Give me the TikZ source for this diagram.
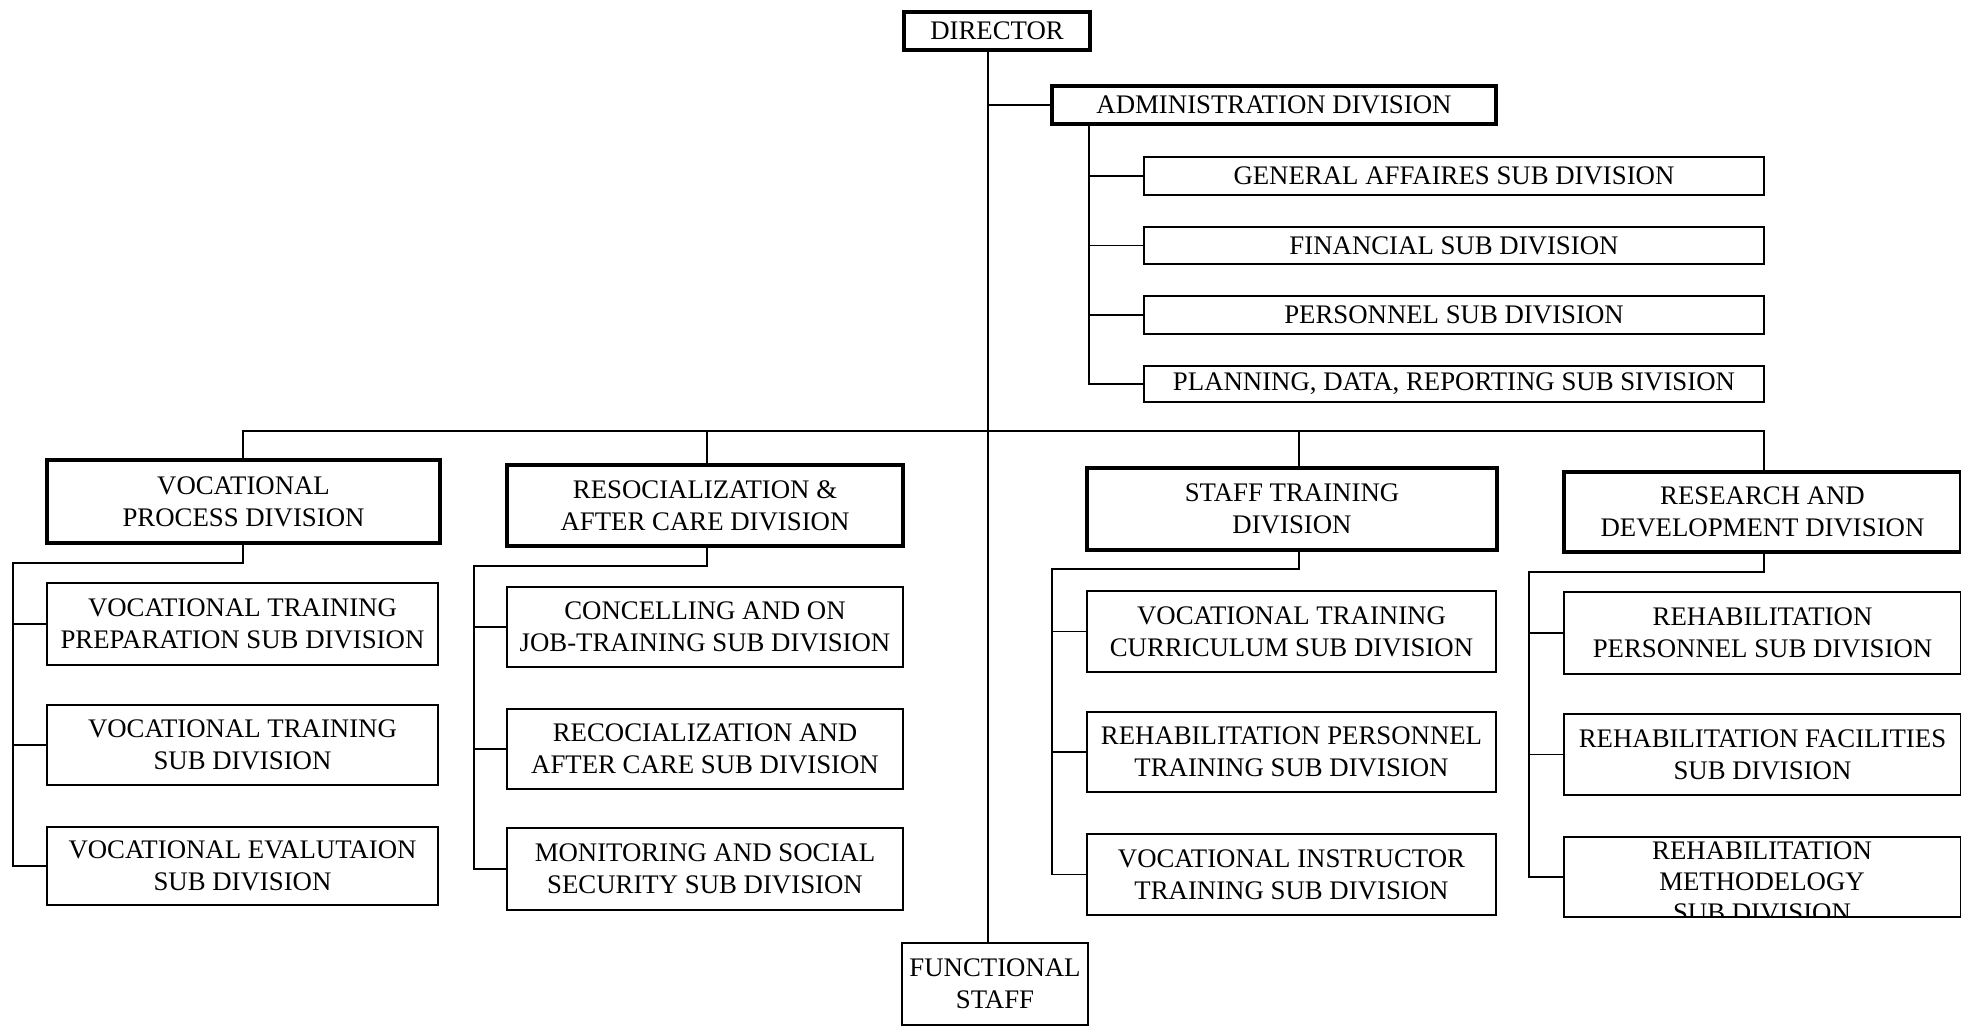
\documentclass[tikz,border=0pt]{standalone}
\usepackage{fontspec}
\setmainfont{Liberation Serif}
\newcommand{\orgbox}[7]{%
  \node[#1, minimum width={(#5-#3)*0.5pt}, minimum height={(#6-#4)*0.5pt}] (#2) at ({(#3+#5)/2},{(#4+#6)/2}) {#7};}
\begin{document}
\begin{tikzpicture}[x=0.5pt,y=-0.5pt,
  box/.style={draw, line width=0.9pt, inner sep=0pt, align=center, font=\fontsize{13.4}{16}\selectfont},
  divbox/.style={box, line width=2.2pt},
  txt/.style={inner sep=0pt, align=center, font=\fontsize{13.4}{15.5}\selectfont},
  link/.style={line width=0.8pt}]
\useasboundingbox (0,0) rectangle (1961,1025);
% top
\orgbox{divbox}{dir}{904}{12}{1090}{50}{DIRECTOR}
\orgbox{divbox}{adm}{1052}{86}{1496}{124}{ADMINISTRATION DIVISION}
\orgbox{box}{gen}{1144}{157}{1764}{195}{GENERAL AFFAIRES SUB DIVISION}
\orgbox{box}{fin}{1144}{227}{1764}{264}{FINANCIAL SUB DIVISION}
\orgbox{box}{per}{1144}{296}{1764}{334}{PERSONNEL SUB DIVISION}
\orgbox{box}{pla}{1144}{366}{1764}{402}{PLANNING, DATA, REPORTING SUB SIVISION}
% divisions
\orgbox{divbox}{vp}{47}{460}{440}{543}{VOCATIONAL\\PROCESS DIVISION}
\orgbox{divbox}{rs}{507}{465}{903}{546}{RESOCIALIZATION \&\\AFTER CARE DIVISION}
\orgbox{divbox}{st}{1087}{468}{1497}{550}{STAFF TRAINING\\DIVISION}
\orgbox{divbox}{rd}{1564}{472}{1961}{552}{RESEARCH AND\\DEVELOPMENT DIVISION}
% column 1
\orgbox{box}{vtp}{47}{583}{438}{665}{VOCATIONAL TRAINING\\PREPARATION SUB DIVISION}
\orgbox{box}{vt}{47}{705}{438}{785}{VOCATIONAL TRAINING\\SUB DIVISION}
\orgbox{box}{ve}{47}{827}{438}{905}{VOCATIONAL EVALUTAION\\SUB DIVISION}
% column 2
\orgbox{box}{conc}{507}{587}{903}{667}{CONCELLING AND ON\\JOB-TRAINING SUB DIVISION}
\orgbox{box}{reco}{507}{709}{903}{789}{RECOCIALIZATION AND\\AFTER CARE SUB DIVISION}
\orgbox{box}{mon}{507}{828}{903}{910}{MONITORING AND SOCIAL\\SECURITY SUB DIVISION}
% column 3
\orgbox{box}{vtc}{1087}{591}{1496}{672}{VOCATIONAL TRAINING\\CURRICULUM SUB DIVISION}
\orgbox{box}{rpt}{1087}{712}{1496}{792}{REHABILITATION PERSONNEL\\TRAINING SUB DIVISION}
\orgbox{box}{vit}{1087}{834}{1496}{915}{VOCATIONAL INSTRUCTOR\\TRAINING SUB DIVISION}
% column 4
\orgbox{box}{rp}{1564}{592}{1961}{674}{REHABILITATION\\PERSONNEL SUB DIVISION}
\orgbox{box}{rf}{1564}{714}{1961}{795}{REHABILITATION FACILITIES\\SUB DIVISION}
\orgbox{box}{rm}{1564}{837}{1961}{917}{}
\begin{scope}
  \clip (rm.south west) rectangle (rm.north east);
  \node[txt] (rmtxt) at (1762,882) {REHABILITATION\\METHODELOGY\\SUB DIVISION};
\end{scope}
% functional staff
\orgbox{box}{fs}{902}{943}{1088}{1025}{FUNCTIONAL\\STAFF}
% helper coordinates
\coordinate (mx) at (988,0);
\coordinate (ax) at (1089,0);
\coordinate (bus) at (0,431);
\coordinate (c1) at (243,0);
\coordinate (c2) at (707,0);
\coordinate (c3) at (1299,0);
\coordinate (c4) at (1764,0);
\coordinate (s1) at (0,563);
\coordinate (s2) at (0,566);
\coordinate (s3) at (0,569);
\coordinate (s4) at (0,572);
\coordinate (t1) at (13,0);
\coordinate (t2) at (474,0);
\coordinate (t3) at (1052,0);
\coordinate (t4) at (1529,0);
% main line
\draw[link] (mx |- dir.south) -- (mx |- fs.north);
\draw[link] (mx |- adm.west) -- (adm.west);
% admin
\draw[link] (ax |- adm.south) -- (ax |- pla.west) -- (pla.west);
\draw[link] (ax |- gen.west) -- (gen.west);
\draw[link] (ax |- fin.west) -- (fin.west);
\draw[link] (ax |- per.west) -- (per.west);
% bus
\draw[link] (c1 |- vp.north) |- (c4 |- bus) -- (c4 |- rd.north);
\draw[link] (c2 |- bus) -- (c2 |- rs.north);
\draw[link] (c3 |- bus) -- (c3 |- st.north);
% column trunks
\draw[link] (c1 |- vp.south) -- (c1 |- s1) -| (t1 |- ve.west) -- (ve.west);
\draw[link] (t1 |- vtp.west) -- (vtp.west);
\draw[link] (t1 |- vt.west) -- (vt.west);
\draw[link] (c2 |- rs.south) -- (c2 |- s2) -| (t2 |- mon.west) -- (mon.west);
\draw[link] (t2 |- conc.west) -- (conc.west);
\draw[link] (t2 |- reco.west) -- (reco.west);
\draw[link] (c3 |- st.south) -- (c3 |- s3) -| (t3 |- vit.west) -- (vit.west);
\draw[link] (t3 |- vtc.west) -- (vtc.west);
\draw[link] (t3 |- rpt.west) -- (rpt.west);
\draw[link] (c4 |- rd.south) -- (c4 |- s4) -| (t4 |- rm.west) -- (rm.west);
\draw[link] (t4 |- rp.west) -- (rp.west);
\draw[link] (t4 |- rf.west) -- (rf.west);
\end{tikzpicture}
\end{document}
